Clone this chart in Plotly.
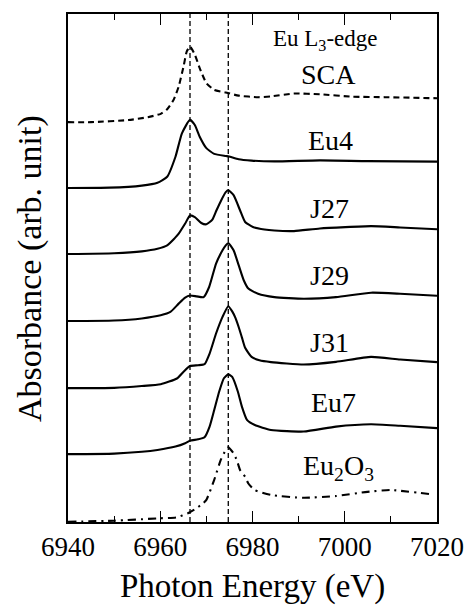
import plotly.graph_objects as go

# ---- data (normalized absorbance) ----
names = ["SCA", "Eu4", "J27", "J29", "J31", "Eu7", "Eu2O3"]
offsets = [15.38, 12.85, 10.31, 7.73, 5.15, 2.58, 0.0]

sca_e = [6940, 6945, 6953.1, 6957.3, 6960.1, 6961.5, 6962.9, 6964.0, 6965.05, 6965.75, 6966.45,
         6967.5, 6968.55, 6970.0, 6971.7, 6974.2, 6977.0, 6981.2, 6984.0, 6989.0, 6994.6,
         7001.6, 7008.7, 7020]
sca_a = [0.0, 0.0, 0.08, 0.19, 0.32, 0.5, 0.86, 1.37, 2.14, 2.72, 2.91,
         2.6, 2.08, 1.5, 1.24, 1.14, 1.02, 0.96, 0.99, 1.1, 1.07,
         0.98, 0.96, 0.92]

eu4_e = [6940, 6949, 6956, 6959.4, 6961.5, 6963.3, 6964.7, 6966.45, 6967.5, 6968.55, 6970.0,
         6971.7, 6974.2, 6974.9, 6977.0, 6979.8, 6984.75, 6994.6, 7005, 7020]
eu4_a = [0.0, 0.01, 0.09, 0.2, 0.43, 1.2, 2.1, 2.62, 2.42, 1.97, 1.53,
         1.31, 1.23, 1.21, 1.1, 1.05, 1.02, 1.06, 1.03, 1.01]

j27_e = [6940, 6950, 6956, 6959.4, 6961.5, 6963.1, 6964.0, 6965.4, 6966.45, 6967.5, 6968.9,
         6970.0, 6971.3, 6972.2, 6973.2, 6974.2, 6974.75, 6975.9, 6977.3, 6978.4, 6980.1,
         6982.6, 6984.75, 6989.0, 6994.6, 7005.7, 7012.0, 7020]
j27_a = [0.0, 0.03, 0.1, 0.2, 0.33, 0.6, 0.78, 1.17, 1.48, 1.42, 1.19,
         1.14, 1.32, 1.68, 2.06, 2.38, 2.45, 2.26, 1.68, 1.23, 1.04,
         0.94, 0.9, 0.88, 0.98, 1.07, 1.02, 0.95]

j29_e = [6940, 6950, 6956, 6960.1, 6962.2, 6964.0, 6965.4, 6966.45, 6967.9, 6969.4, 6970.6,
         6972.1, 6973.5, 6974.2, 6974.75, 6975.9, 6977.0, 6978.1, 6979.1, 6981.2, 6984.75,
         6991.1, 6998.1, 7005.7, 7012.0, 7020]
j29_a = [0.0, 0.02, 0.1, 0.22, 0.35, 0.67, 0.9, 0.98, 0.95, 0.92, 1.31,
         2.21, 2.72, 2.91, 3.0, 2.72, 2.15, 1.57, 1.25, 1.05, 0.92,
         0.86, 0.92, 1.09, 1.05, 0.97]

j31_e = [6940, 6950, 6956, 6960.1, 6963.6, 6965.05, 6966.45, 6968.2, 6969.6, 6970.7, 6972.1,
         6973.5, 6974.75, 6975.6, 6976.3, 6977.0, 6977.7, 6978.4, 6979.8, 6981.5, 6984.0, 6991.1,
         6998.1, 7005.7, 7012.0, 7020]
j31_a = [0.0, 0.01, 0.08, 0.15, 0.37, 0.63, 0.85, 0.88, 0.92, 1.33, 2.1,
         2.74, 3.15, 2.95, 2.7, 2.35, 1.95, 1.55, 1.2, 1.07, 1.0, 0.91,
         1.01, 1.2, 1.1, 1.0]

eu7_e = [6940, 6950, 6956, 6959.4, 6963.3, 6965.4, 6966.45, 6968.2, 6969.6, 6970.7, 6971.7,
         6972.8, 6973.8, 6974.75, 6975.6, 6976.8, 6977.7, 6978.8, 6980.5, 6984.0, 6991.1,
         6998.1, 7005.7, 7012.0, 7020]
eu7_a = [0.03, 0.05, 0.12, 0.19, 0.32, 0.45, 0.55, 0.6, 0.68, 1.09, 1.73,
         2.45, 2.95, 3.1, 3.0, 2.45, 1.86, 1.35, 1.15, 0.96, 0.9,
         1.09, 1.18, 1.12, 1.03]

eu2o3_e = [6940, 6950, 6959.4, 6963.6, 6965.9, 6967.6, 6969.3, 6970.0, 6971.7, 6973.1, 6974.2,
           6974.75, 6975.9, 6976.6, 6977.3, 6978.4, 6979.1, 6980.5, 6984.0, 6991.1, 6998.1,
           7004.9, 7009.9, 7019]
eu2o3_a = [0.01, 0.05, 0.14, 0.18, 0.33, 0.5, 0.72, 0.85, 1.62, 2.38, 2.77,
           2.87, 2.64, 2.38, 2.0, 1.74, 1.48, 1.23, 1.04, 0.93, 1.0,
           1.16, 1.23, 1.06]

energies = [sca_e, eu4_e, j27_e, j29_e, j31_e, eu7_e, eu2o3_e]
absorb = [sca_a, eu4_a, j27_a, j29_a, j31_a, eu7_a, eu2o3_a]
dashes = ["6px,4px", "solid", "solid", "solid", "solid", "solid", "8px,5px,2px,5px"]

label_text = ["SCA", "Eu4", "J27", "J29", "J31", "Eu7", "Eu<sub>2</sub>O<sub>3</sub>"]
label_x = [6996.5, 6997.0, 6996.7, 6996.7, 6996.8, 6997.6, 6998.6]
label_y = [17.23, 14.69, 12.04, 9.5, 6.92, 4.58, 2.1]

ref_lines = [6966.45, 6974.75]
x_ticks = [6940, 6960, 6980, 7000, 7020]

FONT = "'Times New Roman', 'Liberation Serif', Tinos, serif"

fig = go.Figure()
for e, a, off, d, n in zip(energies, absorb, offsets, dashes, names):
    fig.add_trace(go.Scatter(
        x=e, y=[v + off for v in a], mode="lines", name=n,
        line=dict(color="black", width=2.1, dash=d, shape="spline", smoothing=0.5),
        showlegend=False, hoverinfo="skip"))

for xv in ref_lines:
    fig.add_shape(type="line", xref="x", yref="paper", x0=xv, x1=xv, y0=0, y1=1,
                  line=dict(color="black", width=1.3, dash="5px,3px"))

for t, lx, ly in zip(label_text, label_x, label_y):
    fig.add_annotation(x=lx, y=ly, xref="x", yref="y", text=t, showarrow=False,
                       font=dict(family=FONT, size=28, color="black"))

fig.add_annotation(x=6995.8, y=18.54, xref="x", yref="y", text="Eu L<sub>3</sub>-edge",
                   showarrow=False, font=dict(family=FONT, size=23, color="black"))

fig.add_annotation(x=-0.103, y=0.5, xref="paper", yref="paper", text="Absorbance (arb. unit)",
                   textangle=-90, showarrow=False, xanchor="center", yanchor="middle",
                   font=dict(family=FONT, size=34, color="black"))
fig.add_annotation(x=0.5, y=-0.127, xref="paper", yref="paper", text="Photon Energy (eV)",
                   showarrow=False, xanchor="center", yanchor="middle",
                   font=dict(family=FONT, size=33, color="black"))

fig.update_layout(
    width=476, height=606,
    margin=dict(l=68, r=29, t=14, b=84),
    paper_bgcolor="white", plot_bgcolor="white",
    font=dict(family=FONT, color="black"),
    xaxis=dict(range=[6940, 7020], tickvals=x_ticks, ticks="inside", ticklen=11, tickwidth=1.3,
               tickcolor="black", showline=True, linecolor="black", linewidth=1.5, mirror="ticks",
               showgrid=False, zeroline=False, tickfont=dict(family=FONT, size=27, color="black"),
               minor=dict(dtick=10, tick0=6940, ticks="inside", ticklen=6, tickwidth=1.3,
                          tickcolor="black", showgrid=False)),
    yaxis=dict(range=[0, 19.54], showticklabels=False, ticks="", showline=True, linecolor="black",
               linewidth=1.5, mirror=True, showgrid=False, zeroline=False),
)

fig.write_html("out.html")
